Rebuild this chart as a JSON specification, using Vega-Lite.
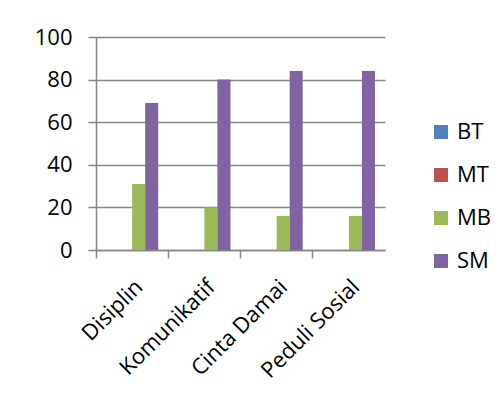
{
  "$schema": "https://vega.github.io/schema/vega-lite/v6.json",
  "width": 289,
  "height": 213,
  "autosize": "none",
  "padding": {"left": 96, "top": 37, "right": 118, "bottom": 153},
  "background": "white",
  "data": {"values": [
    {"kategori": "Disiplin", "seri": "BT", "nilai": 0},
    {"kategori": "Disiplin", "seri": "MT", "nilai": 0},
    {"kategori": "Disiplin", "seri": "MB", "nilai": 31},
    {"kategori": "Disiplin", "seri": "SM", "nilai": 69},
    {"kategori": "Komunikatif", "seri": "BT", "nilai": 0},
    {"kategori": "Komunikatif", "seri": "MT", "nilai": 0},
    {"kategori": "Komunikatif", "seri": "MB", "nilai": 20},
    {"kategori": "Komunikatif", "seri": "SM", "nilai": 80},
    {"kategori": "Cinta Damai", "seri": "BT", "nilai": 0},
    {"kategori": "Cinta Damai", "seri": "MT", "nilai": 0},
    {"kategori": "Cinta Damai", "seri": "MB", "nilai": 16},
    {"kategori": "Cinta Damai", "seri": "SM", "nilai": 84},
    {"kategori": "Peduli Sosial", "seri": "BT", "nilai": 0},
    {"kategori": "Peduli Sosial", "seri": "MT", "nilai": 0},
    {"kategori": "Peduli Sosial", "seri": "MB", "nilai": 16},
    {"kategori": "Peduli Sosial", "seri": "SM", "nilai": 84}
  ]},
  "mark": {"type": "bar"},
  "encoding": {
    "x": {
      "field": "kategori", "type": "nominal", "sort": null,
      "scale": {"paddingInner": 0, "paddingOuter": 0},
      "axis": {"title": null, "labelAngle": -45, "labelFontSize": 22, "labelFont": "Open Sans", "labelColor": "#000",
               "domainColor": "#868686", "tickColor": "#868686", "tickSize": 8, "bandPosition": 0, "labelPadding": 18, "domainWidth": 1.5, "tickWidth": 1.5}
    },
    "xOffset": {"field": "seri", "type": "nominal", "sort": ["BT", "MT", "MB", "SM"],
      "scale": {"paddingInner": 0, "paddingOuter": 0.77}},
    "y": {
      "field": "nilai", "type": "quantitative",
      "scale": {"domain": [0, 100]},
      "axis": {"title": null, "values": [0, 20, 40, 60, 80, 100], "labelFontSize": 22, "labelFont": "Open Sans", "labelColor": "#000",
               "gridColor": "#868686", "gridWidth": 1.5, "domainColor": "#868686", "domainWidth": 1.5, "tickColor": "#868686", "tickSize": 8, "tickWidth": 1.5, "labelPadding": 16}
    },
    "color": {
      "field": "seri", "type": "nominal", "sort": ["BT", "MT", "MB", "SM"],
      "scale": {"domain": ["BT", "MT", "MB", "SM"], "range": ["#4F81BD", "#C0504D", "#9BBB59", "#8064A2"]},
      "legend": {"title": null, "orient": "none", "legendX": 334, "legendY": 84, "symbolType": "square", "symbolSize": 196,
                 "symbolStrokeWidth": 0, "labelFontSize": 22, "labelFont": "Open Sans", "labelColor": "#000", "rowPadding": 21, "labelOffset": 5}
    }
  },
  "config": {"view": {"stroke": null}}
}
